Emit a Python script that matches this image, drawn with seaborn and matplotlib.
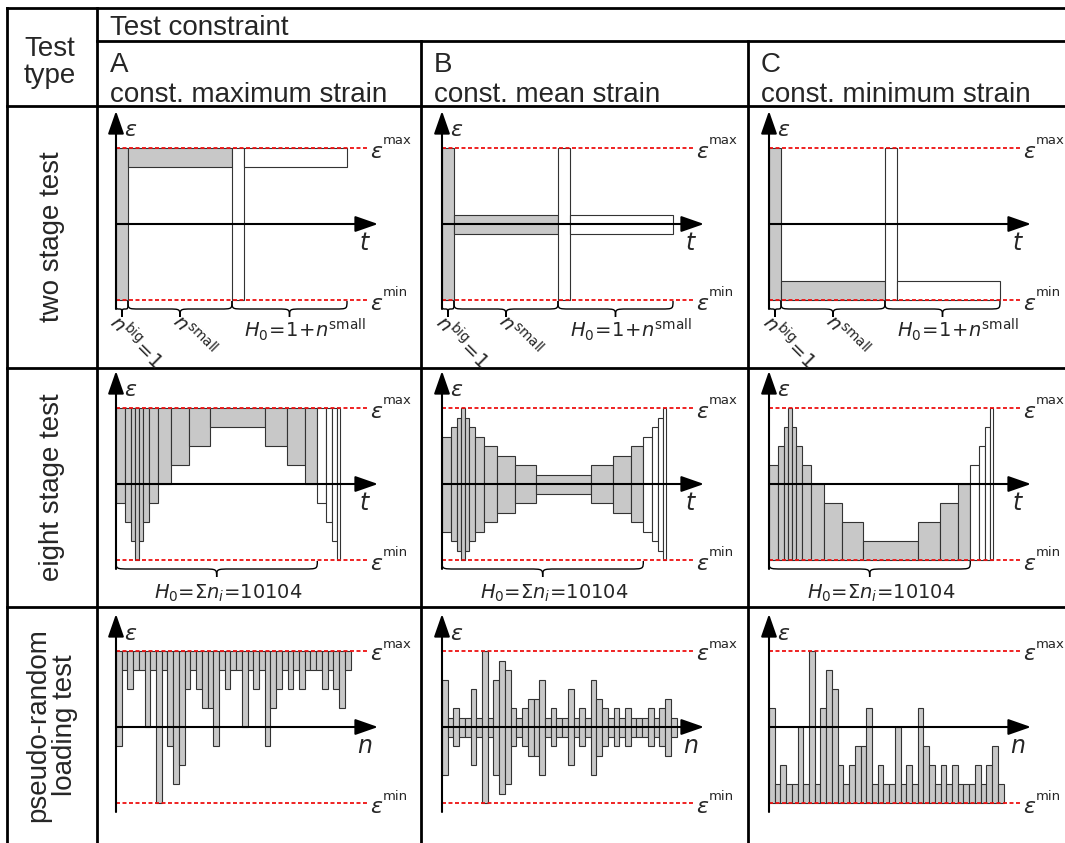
import numpy as np
import matplotlib
matplotlib.use('Agg')
import matplotlib.pyplot as plt
import seaborn as sns
from matplotlib.path import Path
from matplotlib.patches import PathPatch

sns.set_theme(style='white')
plt.rcParams['font.family'] = ['Liberation Sans', 'DejaVu Sans']
plt.rcParams['mathtext.fontset'] = 'dejavusans'

# ---------------- data ----------------
col_letters = ['A', 'B', 'C']
col_titles = ['const. maximum strain', 'const. mean strain', 'const. minimum strain']
col_kind = ['max', 'mean', 'min']
row_titles = ['two stage test', 'eight stage test', 'pseudo-random\nloading test']
axis_var = ['t', 't', 'n']

# strain amplitude as half of the range (eps_max - eps_min = 2), block length in cycles (drawing units)
two_stage_widths = [12, 104, 12, 103]
two_stage_amps = [1.0, 0.125, 1.0, 0.125]
two_stage_gray = [True, True, False, False]

eight_stage_widths = [8.5, 6.3, 4.5, 3.3, 4.5, 6.3, 8.5, 12.7, 18, 21.5, 55,
                      21.5, 18, 12.7, 8.5, 6.3, 4.5, 3.3]
eight_stage_amps = [0.625, 0.75, 0.875, 1.0, 0.875, 0.75, 0.625, 0.5, 0.375, 0.25, 0.125,
                    0.25, 0.375, 0.5, 0.625, 0.75, 0.875, 1.0]
eight_stage_gray = [True] * 14 + [False] * 4

random_amps = [0.625, 0.125, 0.25, 0.125, 0.125, 0.5, 0.125, 1.0, 0.125, 0.625,
               0.875, 0.75, 0.25, 0.125, 0.25, 0.375, 0.375, 0.625, 0.125, 0.25,
               0.125, 0.125, 0.5, 0.125, 0.25, 0.125, 0.625, 0.375, 0.25, 0.125,
               0.25, 0.125, 0.25, 0.125, 0.125, 0.125, 0.25, 0.125, 0.25, 0.375,
               0.125]
random_width = 5.72

# ---------------- layout (pixels) ----------------
W, H = 1065, 843
col_x0 = [116, 442, 769]      # position of the strain axis in each column
row_ymax = [148, 408, 651]    # pixel row of eps_max in each row
S = 76                        # pixels per strain unit

GRAY = '#c8c8c8'
EDGE = '#333333'
RED = '#ee1111'

fig = plt.figure(figsize=(W / 100, H / 100), dpi=100)
bg = fig.add_axes([0, 0, 1, 1])
bg.set_xlim(0, W)
bg.set_ylim(H, 0)
bg.axis('off')

# table grid
lw_grid = 2.0
for y, x1 in [(8, 7), (41, 97), (106, 7), (368, 7), (607, 7)]:
    bg.plot([x1, W], [y, y], color='black', lw=lw_grid, solid_capstyle='projecting')
for x, y1 in [(7, 8), (97, 8), (421, 41), (748, 41)]:
    bg.plot([x, x], [y1, H], color='black', lw=lw_grid, solid_capstyle='projecting')

bg.text(50, 56, 'Test', fontsize=20, ha='center', va='baseline')
bg.text(50, 83, 'type', fontsize=20, ha='center', va='baseline')
bg.text(110, 35, 'Test constraint', fontsize=20, ha='left', va='baseline')
for i, sep in enumerate([97, 421, 748]):
    bg.text(sep + 13, 72, col_letters[i], fontsize=20, ha='left', va='baseline')
    bg.text(sep + 13, 102, col_titles[i], fontsize=20, ha='left', va='baseline')
for i, yc in enumerate([237, 487, 725]):
    bg.text(52, yc, row_titles[i], fontsize=20, rotation=90, ha='center', va='center',
            multialignment='center', linespacing=1.05)


def bounds(amps, kind):
    a = np.asarray(amps)
    if kind == 'max':
        return 1 - 2 * a, np.ones_like(a)
    if kind == 'mean':
        return -a, a
    return -np.ones_like(a), -1 + 2 * a


def make_cell(x0, ymax):
    left, right = x0 - 15, x0 + 300
    top, bottom = ymax - 45, ymax + 2 * S + 70
    ax = fig.add_axes([left / W, 1 - bottom / H, (right - left) / W, (bottom - top) / H])
    ax.set_xlim(-15, 300)
    ax.set_ylim(-1 - 70 / S, 1 + 45 / S)
    ax.axis('off')
    return ax


def brace(ax, a, b, y0, h, r=10):
    m = (a + b) / 2
    r = min(r, (b - a) / 4)
    ym, yt = y0 - h / 2, y0 - h
    verts = [(a, y0), (a, ym), (a, ym), (a + r, ym),
             (m - r, ym),
             (m, ym), (m, ym), (m, yt),
             (m, ym), (m, ym), (m + r, ym),
             (b - r, ym),
             (b, ym), (b, ym), (b, y0)]
    codes = [Path.MOVETO] + [Path.CURVE4] * 3 + [Path.LINETO] + [Path.CURVE4] * 6 + \
            [Path.LINETO] + [Path.CURVE4] * 3
    ax.add_patch(PathPatch(Path(verts, codes), fill=False, lw=1.0, color='black', zorder=3))


def draw_frame(ax, var):
    arrow = dict(arrowstyle='-|>,head_length=1.0,head_width=0.35', mutation_scale=14,
                 lw=1.5, color='black', shrinkA=0, shrinkB=0)
    ax.annotate('', xy=(0, 1 + 37 / S), xytext=(0, -1 - 9 / S), arrowprops=arrow, zorder=6)
    ax.annotate('', xy=(262, 0), xytext=(0, 0), arrowprops=arrow, zorder=6)
    for y, sup in [(1, 'max'), (-1, 'min')]:
        ax.plot([0, 252], [y, y], color=RED, lw=1.3, ls=(0, (2.2, 1.4)), zorder=5)
        ax.text(254, y - 4 / S, r'$\varepsilon$', fontsize=16, ha='left', va='center')
        ax.text(267, y + 7 / S, sup, fontsize=9.5, ha='left', va='center', family='DejaVu Sans')
    ax.text(15, 1 + 17 / S, r'$\varepsilon$', fontsize=16, ha='center', va='center')
    ax.text(249, -20 / S, '$%s$' % var, fontsize=17, ha='center', va='center')


def draw_blocks(ax, widths, amps, gray, kind):
    widths = np.asarray(widths, dtype=float)
    lefts = np.concatenate([[0], np.cumsum(widths)[:-1]])
    lo, hi = bounds(amps, kind)
    colors = [GRAY if g else 'white' for g in gray]
    ax.bar(lefts, hi - lo, bottom=lo, width=widths, align='edge', color=colors,
           edgecolor=EDGE, linewidth=0.8, zorder=2)
    return lefts, widths


for c in range(3):
    kind = col_kind[c]
    # row 1: two stage test
    ax = make_cell(col_x0[c], row_ymax[0])
    draw_frame(ax, axis_var[0])
    lefts, widths = draw_blocks(ax, two_stage_widths, two_stage_amps, two_stage_gray, kind)
    y0, h = -1 - 1 / S, 16 / S
    brace(ax, lefts[0], lefts[1], y0, h, r=3)
    brace(ax, lefts[1], lefts[2], y0, h, r=12)
    brace(ax, lefts[2], lefts[3] + widths[3], y0, h, r=12)
    ax.text(-3, -1 - 19 / S, r'$n^{\mathrm{big}}\!=\!1$', fontsize=14, rotation=-45,
            rotation_mode='anchor', ha='left', va='center')
    ax.text(lefts[1] + 48, -1 - 18 / S, r'$n^{\mathrm{small}}$', fontsize=14, rotation=-45,
            rotation_mode='anchor', ha='left', va='center')
    ax.text((lefts[2] + lefts[3] + widths[3]) / 2 + 15, -1 - 30 / S,
            r'$H_0\!=\!1\!+\!n^{\mathrm{small}}$', fontsize=14, ha='center', va='center')

    # row 2: eight stage test
    ax = make_cell(col_x0[c], row_ymax[1])
    draw_frame(ax, axis_var[1])
    lefts, widths = draw_blocks(ax, eight_stage_widths, eight_stage_amps, eight_stage_gray, kind)
    gray_end = sum(w for w, g in zip(eight_stage_widths, eight_stage_gray) if g)
    brace(ax, 0, gray_end, -1 - 1 / S, 16 / S, r=14)
    ax.text(gray_end / 2 + 12, -1 - 33 / S, '$H_0$=\u03a3$n_i$=10104',
            fontsize=14, ha='center', va='center', family='DejaVu Sans')

    # row 3: pseudo-random loading test
    ax = make_cell(col_x0[c], row_ymax[2])
    draw_frame(ax, axis_var[2])
    n = len(random_amps)
    draw_blocks(ax, [random_width] * n, random_amps, [True] * n, kind)

fig.savefig('out.png', dpi=100)
